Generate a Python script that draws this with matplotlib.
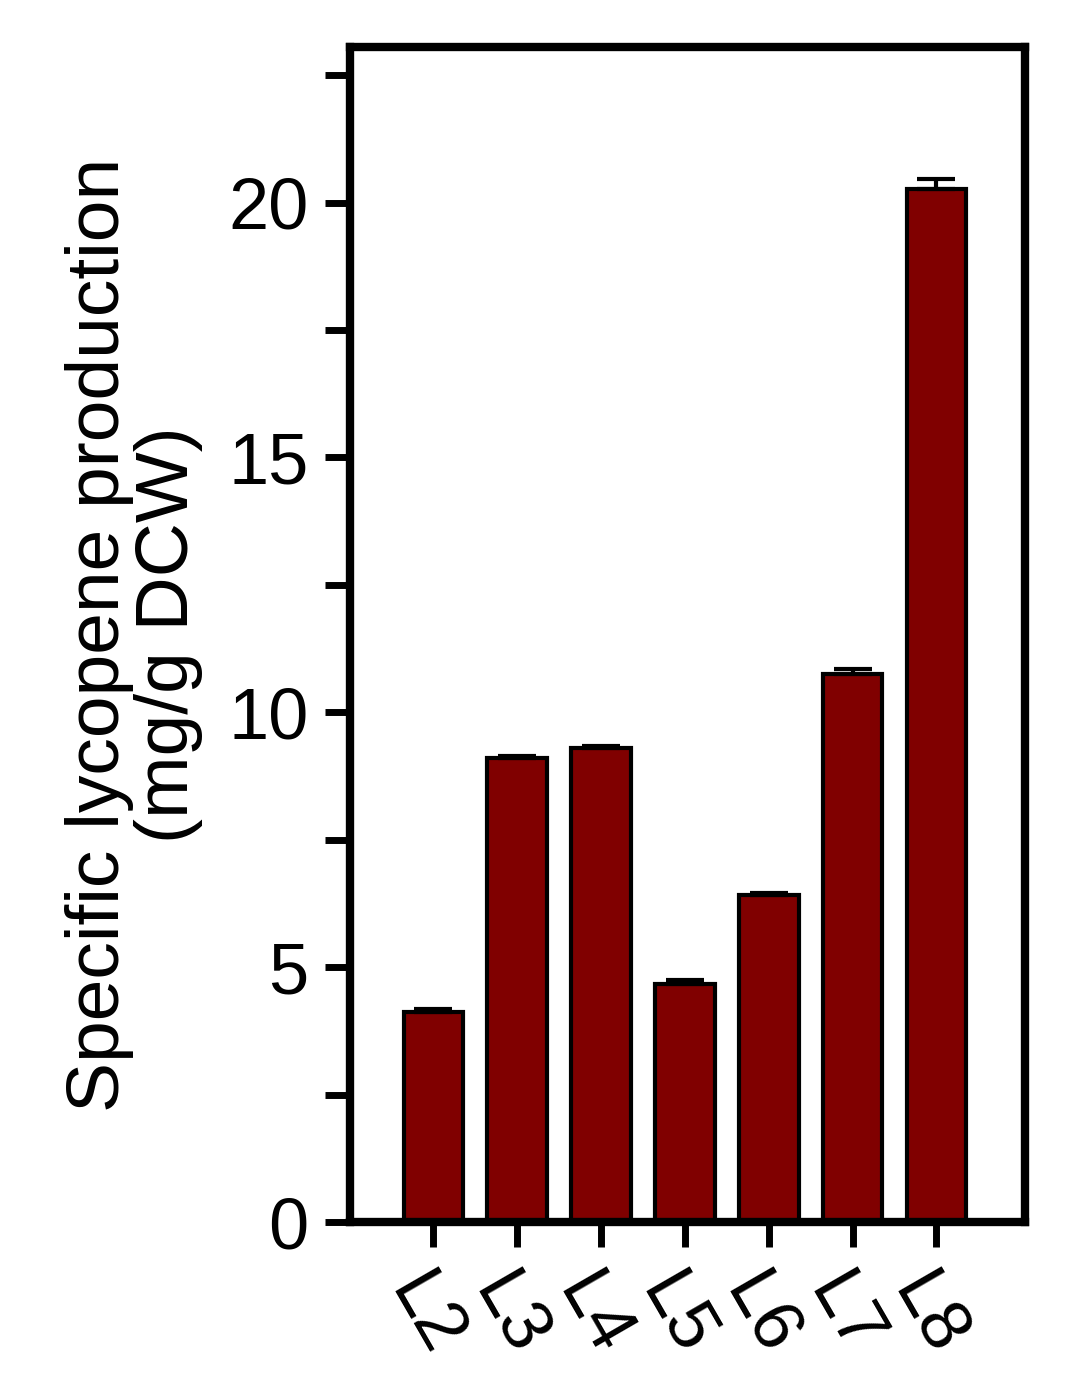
import matplotlib.pyplot as plt
import numpy as np

plt.rcParams['font.family'] = ['Liberation Sans', 'DejaVu Sans']

labels = ['L2', 'L3', 'L4', 'L5', 'L6', 'L7', 'L8']
values = [4.12, 9.1, 9.29, 4.67, 6.41, 10.76, 20.27]
errors = [0.05, 0.05, 0.05, 0.08, 0.04, 0.08, 0.2]

fig = plt.figure(figsize=(10.65, 13.84), dpi=100)
ax = fig.add_axes([0.329, 0.117, 0.633, 0.849])

x = np.arange(len(labels))
ax.bar(x, values, width=0.71, color='#800000', edgecolor='black', linewidth=3,
       yerr=[np.zeros(len(errors)), errors],
       error_kw=dict(ecolor='black', elinewidth=3, capsize=14, capthick=3))

ax.set_xlim(-0.99, 7.05)
ax.set_ylim(0, 23.05)
ax.set_yticks([0, 5, 10, 15, 20])
ax.set_yticks(np.arange(2.5, 23, 5), minor=True)
ax.set_xticks(x)
ax.set_xticklabels(labels, rotation=-60, ha='left', rotation_mode='anchor')
ax.tick_params(axis='both', which='major', length=18, width=5, labelsize=52, pad=12)
ax.tick_params(axis='y', which='minor', length=18, width=5)
for s in ax.spines.values():
    s.set_linewidth(6)

ax.set_ylabel('Specific lycopene production\n(mg/g DCW)', fontsize=54, labelpad=18,
              linespacing=1.0)

fig.savefig('out.png', dpi=100)
